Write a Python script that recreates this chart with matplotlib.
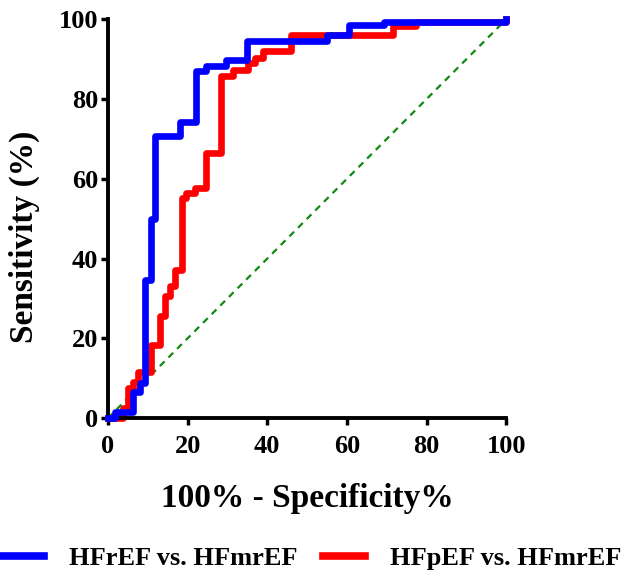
import matplotlib
matplotlib.use('Agg')
import matplotlib.pyplot as plt
from matplotlib.lines import Line2D

plt.rcParams['font.family'] = ['Liberation Serif', 'DejaVu Serif']
plt.rcParams['font.weight'] = 'bold'

# ROC step points (100% - specificity, sensitivity)
fpr_hfref = [0, 1.7, 6.3, 8.0, 9.3, 10.9, 11.8, 18.0, 22.2, 24.7, 29.7, 35.0, 55.1, 60.6, 69.4, 100]
tpr_hfref = [0, 1.4, 6.4, 8.9, 34.6, 50.0, 70.7, 74.3, 87.0, 88.4, 89.7, 94.6, 96.0, 98.7, 99.4, 100]

fpr_hfpef = [0, 3.8, 5.1, 6.3, 7.6, 10.9, 13.0, 14.3, 15.5, 16.8, 18.5, 19.7, 21.8, 24.7, 28.5, 31.4,
             35.2, 36.8, 38.9, 46.0, 71.5, 77.4, 100]
tpr_hfpef = [0, 2.5, 7.5, 9.1, 11.6, 18.3, 25.5, 30.5, 33.0, 37.2, 55.2, 56.5, 57.7, 66.5, 85.9, 87.3,
             89.1, 90.4, 92.0, 96.1, 98.3, 99.4, 100]

labels = ['HFrEF vs. HFmrEF', 'HFpEF vs. HFmrEF']
colors = ['#0000ff', '#ff0000']

fig = plt.figure(figsize=(6.23, 5.76), dpi=100)
ax = fig.add_axes([0.1734, 0.2743, 0.639, 0.692])

ax.plot([0, 100], [0, 100], color='#108a10', linewidth=1.6, linestyle=(0, (3, 2.5)), zorder=1)
ax.step(fpr_hfpef, tpr_hfpef, where='post', color=colors[1], linewidth=4.8, clip_on=False, zorder=2)
ax.step(fpr_hfref, tpr_hfref, where='post', color=colors[0], linewidth=4.8, clip_on=False, zorder=3)

ax.set_xlim(0, 100)
ax.set_ylim(0, 100)
ax.set_xticks(range(0, 101, 20))
ax.set_yticks(range(0, 101, 20))
for s in ['top', 'right']:
    ax.spines[s].set_visible(False)
for s in ['left', 'bottom']:
    ax.spines[s].set_linewidth(2.8)
ax.tick_params(axis='both', length=5, width=2.5, labelsize=19, pad=2)
ax.tick_params(axis='x', pad=7)

ax.set_xlabel('100% - Specificity%', fontsize=24, fontweight='bold', labelpad=18)
ax.set_ylabel('Sensitivity (%)', fontsize=24, fontweight='bold')
ax.yaxis.set_label_coords(-0.17, 0.454)

handles = [Line2D([], [], color=c, linewidth=5.5) for c in colors]
fig.legend(handles, labels, loc='center', bbox_to_anchor=(0.5, 1 - 558 / 576), ncol=2,
           frameon=False, fontsize=19, handlelength=1.6, handletextpad=0.95,
           columnspacing=0.95, borderpad=0)

fig.savefig('out.png', dpi=100)
